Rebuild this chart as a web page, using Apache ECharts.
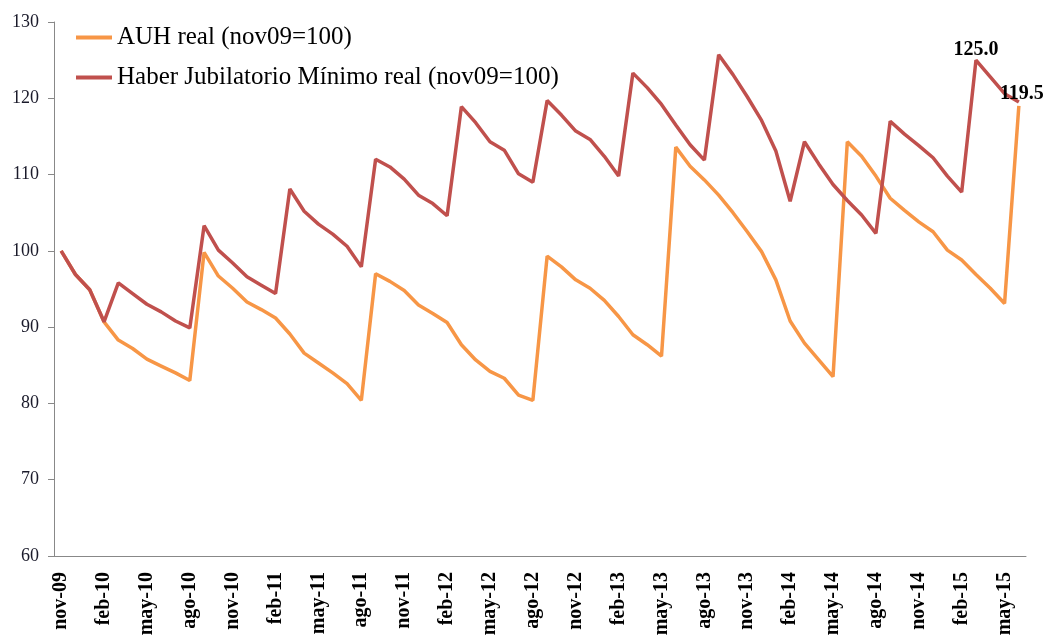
<!DOCTYPE html>
<html>
<head>
<meta charset="utf-8">
<script src="https://cdn.jsdelivr.net/npm/echarts@6/dist/echarts.min.js"></script>
<style>
  html, body { margin: 0; padding: 0; background: #fff; }
  #chart { width: 1047px; height: 642px; }
</style>
</head>
<body>
<div id="chart"></div>
<script>
// meses nov-09 .. jun-15
const months = [
  'nov-09', 'dic-09', 'ene-10', 'feb-10', 'mar-10', 'abr-10', 'may-10', 'jun-10', 'jul-10', 'ago-10', 'sep-10', 'oct-10',
  'nov-10', 'dic-10', 'ene-11', 'feb-11', 'mar-11', 'abr-11', 'may-11', 'jun-11', 'jul-11', 'ago-11', 'sep-11', 'oct-11',
  'nov-11', 'dic-11', 'ene-12', 'feb-12', 'mar-12', 'abr-12', 'may-12', 'jun-12', 'jul-12', 'ago-12', 'sep-12', 'oct-12',
  'nov-12', 'dic-12', 'ene-13', 'feb-13', 'mar-13', 'abr-13', 'may-13', 'jun-13', 'jul-13', 'ago-13', 'sep-13', 'oct-13',
  'nov-13', 'dic-13', 'ene-14', 'feb-14', 'mar-14', 'abr-14', 'may-14', 'jun-14', 'jul-14', 'ago-14', 'sep-14', 'oct-14',
  'nov-14', 'dic-14', 'ene-15', 'feb-15', 'mar-15', 'abr-15', 'may-15', 'jun-15'
];

const auh = [
  100.0, 96.9, 94.9, 90.7, 88.3, 87.2, 85.8, 84.9, 84.0, 83.0, 99.8, 96.7,
  95.1, 93.3, 92.3, 91.2, 89.1, 86.6, 85.3, 84.0, 82.6, 80.4, 97.0, 96.0,
  94.8, 92.9, 91.8, 90.6, 87.7, 85.7, 84.2, 83.3, 81.1, 80.4, 99.3, 97.9,
  96.2, 95.1, 93.5, 91.4, 89.0, 87.7, 86.2, 113.6, 111.1, 109.3, 107.3, 105.0,
  102.5, 99.9, 96.2, 90.8, 87.9, 85.7, 83.5, 114.3, 112.4, 109.8, 106.9, 105.3,
  103.8, 102.5, 100.1, 98.8, 96.9, 95.1, 93.1, 119.0
];

const haber = [
  100.0, 96.9, 94.9, 90.7, 95.8, 94.4, 93.0, 92.0, 90.8, 89.9, 103.3, 100.1,
  98.4, 96.6, 95.5, 94.4, 108.1, 105.2, 103.5, 102.2, 100.6, 97.9, 112.0, 111.0,
  109.4, 107.3, 106.2, 104.6, 118.9, 116.8, 114.3, 113.2, 110.1, 109.0, 119.7, 117.8,
  115.7, 114.6, 112.4, 109.8, 123.3, 121.4, 119.2, 116.5, 113.9, 111.9, 125.7, 123.1,
  120.2, 117.1, 113.1, 106.5, 114.3, 111.4, 108.7, 106.6, 104.7, 102.3, 117.0, 115.3,
  113.8, 112.2, 109.8, 107.7, 125.0, 122.8, 120.6, 119.5
];

// puntos con etiqueta (índices de haber)
const labeled = [64, 67];

const serif = '"Liberation Serif", "DejaVu Serif", serif';

const chart = echarts.init(document.getElementById('chart'));

const haberData = haber.map((v, i) => {
  if (labeled.indexOf(i) < 0) return v;
  return {
    value: v,
    label: {
      show: true,
      position: 'top',
      distance: 3,
      offset: i === 67 ? [3, 5] : [0, 3],
      formatter: (p) => p.value.toFixed(1),
      fontFamily: serif,
      fontWeight: 'bold',
      fontSize: 20,
      color: '#000'
    }
  };
});

chart.setOption({
  animation: false,
  backgroundColor: '#fff',
  grid: { left: 54, right: 21, top: 22, bottom: 86 },
  legend: {
    orient: 'vertical',
    left: 71,
    top: 20,
    itemWidth: 36,
    itemHeight: 4,
    itemGap: 15,
    icon: 'rect',
    textStyle: { fontFamily: serif, fontSize: 25, color: '#000' },
    data: ['AUH real (nov09=100)', 'Haber Jubilatorio Mínimo real (nov09=100)']
  },
  xAxis: {
    type: 'category',
    data: months,
    boundaryGap: true,
    axisLine: { lineStyle: { color: '#888', width: 1 } },
    axisTick: { interval: 2, length: 7, lineStyle: { color: '#888' } },
    axisLabel: {
      interval: 2,
      rotate: 90,
      margin: 16,
      fontFamily: serif,
      fontWeight: 'bold',
      fontSize: 20,
      color: '#000'
    },
    splitLine: { show: false }
  },
  yAxis: {
    type: 'value',
    min: 60,
    max: 130,
    interval: 10,
    axisLine: { show: true, lineStyle: { color: '#888', width: 1 } },
    axisTick: { show: true, length: 6, lineStyle: { color: '#888' } },
    axisLabel: { margin: 15, fontFamily: serif, fontSize: 18, color: '#1a1a2a' },
    splitLine: { show: false }
  },
  series: [
    {
      name: 'AUH real (nov09=100)',
      type: 'line',
      data: auh,
      symbol: 'none',
      color: '#F79646',
      lineStyle: { width: 3.5, color: '#F79646' },
      z: 2
    },
    {
      name: 'Haber Jubilatorio Mínimo real (nov09=100)',
      type: 'line',
      data: haberData,
      symbol: 'circle',
      symbolSize: 0,
      showSymbol: true,
      color: '#C0504D',
      lineStyle: { width: 3.5, color: '#C0504D' },
      z: 3
    }
  ]
});
</script>
</body>
</html>
